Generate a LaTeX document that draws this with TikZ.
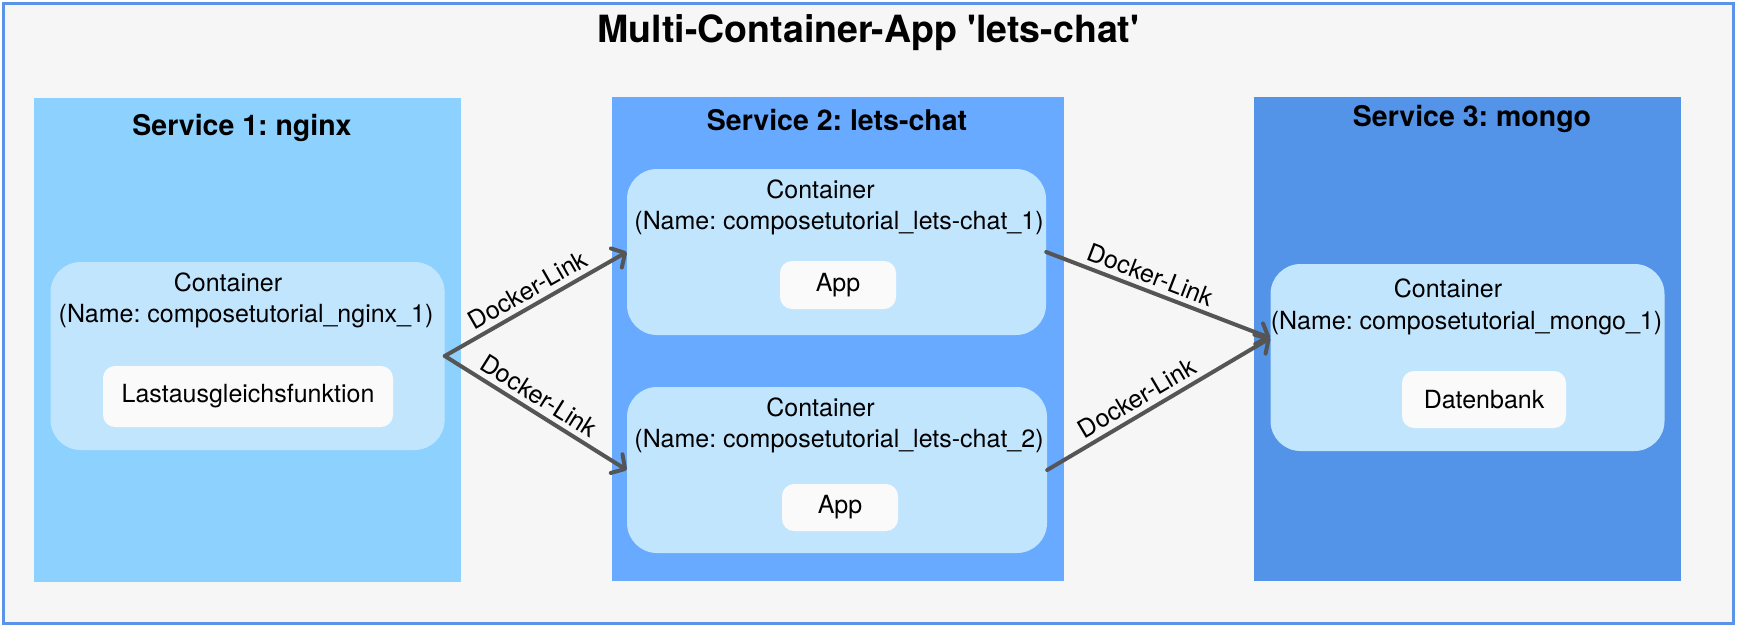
\documentclass[tikz,border=0pt]{standalone}
\usepackage{fontspec}
\setmainfont{TeX Gyre Heros}[Ligatures=TeXOff]
\usetikzlibrary{arrows.meta,calc}
\definecolor{bgc}{HTML}{F6F6F6}
\definecolor{framec}{HTML}{5A94E8}
\definecolor{sone}{HTML}{8DD1FF}
\definecolor{stwo}{HTML}{67AAFF}
\definecolor{sthree}{HTML}{5394E8}
\definecolor{contc}{HTML}{C2E5FE}
\definecolor{inboxc}{HTML}{FAFAFA}
\definecolor{arrc}{HTML}{555555}
\newcommand{\regfont}{\fontsize{25}{29}\selectfont}
\newcommand{\lnkfont}{\fontsize{25}{29}\selectfont}
\newcommand{\svcfont}{\fontsize{28.5}{32}\selectfont\bfseries}
\newcommand{\ttlfont}{\fontsize{37.5}{42}\selectfont\bfseries}
\frenchspacing
\begin{document}
\begin{tikzpicture}[x=1pt,y=-1pt,
  frame/.style={draw=framec, line width=3pt, fill=bgc, inner sep=0, minimum width=1730pt, minimum height=620pt},
  svc/.style={fill=#1, draw=none, inner sep=0, minimum width=427pt, minimum height=484pt},
  cont/.style={fill=contc, draw=none, rounded corners=30pt, inner sep=0},
  inbox/.style={fill=inboxc, draw=none, rounded corners=12pt, inner sep=0, font=\regfont},
  lbl/.style={font=\regfont, inner sep=0, anchor=base},
  svctitle/.style={font=\svcfont, inner sep=0, anchor=base},
  link/.style={draw=arrc, line width=4pt, line cap=round, -{Straight Barb[length=10pt,width=22pt,line cap=round,line join=round]}},
  linklbl/.style={font=\lnkfont, sloped, above=4pt, inner sep=1pt}
]
\useasboundingbox (0,0) rectangle (1737,627);
\node[frame] (frame) at (868.5,313.5) {};
\node[font=\ttlfont, inner sep=0, anchor=base] (title) at (868.5,42) {Multi-Container-App 'lets-chat'};

% services
\node[svc=sone] (s1) at (247.5,340) {};
\node[svc=stwo, minimum width=452pt] (s2) at (838,339) {};
\node[svc=sthree] (s3) at (1467.5,339) {};
\node[svctitle] (s1t) at (242,135) {Service 1: nginx};
\node[svctitle] (s2t) at (837,130) {Service 2: lets-chat};
\node[svctitle] (s3t) at (1472,126) {Service 3: mongo};

% containers
\node[cont, minimum width=394pt, minimum height=188pt] (c1) at (247.6,356) {};
\node[cont, minimum width=419pt, minimum height=166pt] (c2a) at (836.5,252) {};
\node[cont, minimum width=420pt, minimum height=166pt] (c2b) at (837,470) {};
\node[cont, minimum width=394pt, minimum height=187pt] (c3) at (1467.5,357.5) {};

\node[lbl] (c1l) at (228,291) {Container};
\node[lbl] (c1n) at (246,322) {(Name: composetutorial\_nginx\_1)};
\node[lbl] (c2al) at (820.5,198) {Container};
\node[lbl] (c2an) at (839,229) {(Name: composetutorial\_lets-chat\_1)};
\node[lbl] (c2bl) at (820.5,416) {Container};
\node[lbl] (c2bn) at (839,447) {(Name: composetutorial\_lets-chat\_2)};
\node[lbl] (c3l) at (1448,297) {Container};
\node[lbl] (c3n) at (1466.5,329) {(Name: composetutorial\_mongo\_1)};

% inner boxes
\node[inbox, minimum width=290pt, minimum height=61pt] (lb) at (248,396.5) {Lastausgleichsfunktion};
\node[inbox, minimum width=116pt, minimum height=48pt] (app1) at (838,285) {App};
\node[inbox, minimum width=116pt, minimum height=47pt] (app2) at (840,507.5) {App};
\node[inbox, minimum width=164pt, minimum height=57pt] (db) at (1484,399.5) {Datenbank};

% links
\coordinate (c3in) at ([yshift=19.5pt]c3.west);
\draw[link] (c1.east) -- node[linklbl, pos=0.5] {Docker-Link} (c2a.west);
\draw[link] (c1.east) -- node[linklbl, pos=0.47] {Docker-Link} (c2b.west);
\draw[link] (c2a.east) -- node[linklbl, pos=0.44] {Docker-Link} (c3in);
\draw[link] (c2b.east) -- node[linklbl, pos=0.44] {Docker-Link} (c3in);
\end{tikzpicture}
\end{document}
